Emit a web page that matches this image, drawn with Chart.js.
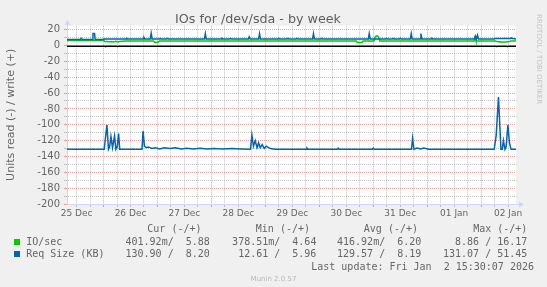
<!DOCTYPE html>
<html>
<head>
<meta charset="utf-8">
<script src="https://cdn.jsdelivr.net/npm/chart.js@4.4.1/dist/chart.umd.min.js"></script>
<style>
  body { margin: 0; background: #F0F0F0; }
  #wrap { position: relative; width: 547px; height: 287px; overflow: hidden; }
  #c { position: absolute; left: 0; top: 0; }
  .lg { position: absolute; font: 10px "DejaVu Sans Mono", monospace; color: #666; white-space: pre; line-height: 12px; }
  .sq { position: absolute; width: 6px; height: 6px; }
  #rrd { position: absolute; left: 534px; top: 14px; font: 7px "DejaVu Sans", sans-serif; color: #c4c4c4; writing-mode: vertical-rl; white-space: pre; line-height: 9px; }
  #ver { position: absolute; left: 0; width: 547px; top: 275px; text-align: center; font: 7px "DejaVu Sans", sans-serif; color: #b8b8b8; line-height: 9px; }
</style>
</head>
<body>
<div id="wrap">
  <canvas id="c" width="547" height="287"></canvas>
  <div id="legend"></div>
  <div id="rrd">RRDTOOL / TOBI OETIKER</div>
  <div id="ver">Munin 2.0.57</div>
</div>
<script>
// hours counted from 25 Dec 00:00
const startHour = 7.75;
const endHour = 207.5;
const dayLabels = ['25 Dec', '26 Dec', '27 Dec', '28 Dec', '29 Dec', '30 Dec', '31 Dec', '01 Jan', '02 Jan'];

// IO/sec: write (+) and read (-)
const ioWrite = [[7.75,6.4],[24.0,6.4],[24.5,5.0],[25.6,5.2],[26.7,4.4],[27.6,5.1],[28.5,4.6],[29.4,5.3],[30.3,4.5],[31.2,5.1],[32.4,5.4],[33.5,5.6],
  [46.2,5.6],[46.7,4.2],[48.3,4.2],[48.8,5.6],[136.4,5.6],[136.9,3.8],[139.0,3.8],[139.5,5.6],
  [144.3,5.6],[144.8,10.5],[145.3,12.0],[145.9,12.0],[146.4,10.5],[146.9,5.6],[188.9,5.6],[189.3,10.0],[189.7,5.6],
  [198.3,5.6],[198.9,5.0],[200.5,4.4],[203.0,4.4],[204.6,5.0],[205.3,5.6],[207.5,5.6]];
const ioRead = [[7.75,-0.4],[24.6,-0.4],[24.9,-1.6],[25.3,-0.4],[29.9,-0.4],[30.3,-1.6],[30.7,-0.4],
  [198.6,-0.4],[199.0,-1.6],[199.4,-0.4],[203.3,-0.4],[203.7,-1.6],[204.1,-0.4],[207.5,-0.4]];

// Req Size (KB): write (+) and read (-)
const reqWrite = [[7.75,7.6],[13.6,7.6],[14.1,9],[14.6,7.6],[19.0,7.6],[19.3,15],[20.0,15],[20.3,7.6],[23.8,7.6],[24.2,8.3],
  [34.0,8.3],[34.4,9],[34.8,8.3],[41.6,8.3],[42.0,10],[42.4,8.3],[44.8,8.3],[45.2,15.5],[45.6,8.3],
  [48.8,8.3],[49.2,9],[49.6,8.3],[52.0,8.3],[52.4,9],[52.8,8.3],[68.9,8.3],[69.3,15],[69.7,8.3],
  [76.3,8.3],[76.7,9],[77.1,8.3],[80.1,8.3],[80.5,9],[80.9,8.3],[88.4,8.3],[88.8,11],[89.2,8.3],
  [93.0,8.3],[93.4,15],[93.8,8.3],[101.6,8.3],[102,9],[102.4,8.3],[105.6,8.3],[106,9],[106.4,8.3],
  [109.6,8.3],[110,9],[110.4,8.3],[117.0,8.3],[117.4,15],[117.8,8.3],[120.6,8.3],[121,9],[121.4,8.3],
  [141.8,8.3],[142.2,15],[142.6,8.3],[149.6,8.3],[150,9],[150.4,8.3],[152.6,8.3],[153,9],[153.4,8.3],
  [155.6,8.3],[156,9],[156.4,8.3],[160.5,8.3],[160.9,15],[161.3,8.3],[164.8,8.3],[165.2,15],[165.6,8.3],
  [169.7,8.3],[170.1,9],[170.5,8.3],[189.0,8.3],[189.4,12],[189.9,8.3],[190.4,13],[190.8,8.3],
  [197.8,8.3],[198.3,8.9],[205.1,8.9],[205.5,9.6],[205.9,8.9],[207.5,8.2]];
const reqRead = [[7.75,-131],[24.3,-131],[25.5,-100],[26.2,-131],[26.7,-128],[27.3,-115],[28.0,-129],[28.9,-114],[29.5,-131],
  [30.1,-128],[30.7,-111],[31.2,-131],[41.1,-131],[41.6,-108],[42.2,-127],[43.0,-129],[44.0,-128],[45.5,-130],
  [47.0,-129],[49.0,-130.5],[51.0,-129],[53.5,-130],[56.0,-129],[58.5,-130.5],[61.0,-129.5],[64.0,-130.5],
  [67.0,-129.5],[70.0,-130.5],[73.0,-130],[77.0,-130.5],[81.0,-130],[85.0,-130.5],[89.4,-131],[90.0,-113],
  [90.7,-127],[91.5,-120],[92.3,-129],[93.0,-123],[93.7,-129],[94.6,-125],[95.5,-130],[96.4,-127],[98.2,-130],
  [100.4,-131],[114.1,-131],[114.5,-129.5],[114.9,-131],[128.0,-131],[128.4,-129.5],[128.8,-131],
  [143.6,-131],[144.0,-129.5],[144.4,-131],[161.0,-131],[161.5,-117],[162.1,-131],[163.5,-129.5],
  [165.0,-130.5],[166.5,-129.5],[168.5,-131],[197.8,-131],[198.7,-113],[199.7,-65],[200.8,-131],[201.4,-131],
  [201.9,-120],[202.6,-131],[203.1,-128],[203.9,-100],[204.6,-123],[205.3,-131],[207.5,-131]];

// legend table
const legendHeads = ['Cur (-/+)', 'Min (-/+)', 'Avg (-/+)', 'Max (-/+)'];
const seriesNames = ['IO/sec', 'Req Size (KB)'];
const seriesColors = ['#00CC00', '#0066B3'];
const ioStats = ['401.92m/  5.88', '378.51m/  4.64', '416.92m/  6.20', '8.86 / 16.17'];
const reqStats = ['130.90 /  8.20', '12.61 /  5.96', '129.57 /  8.19', '131.07 / 51.45'];
const lastUpdate = 'Last update: Fri Jan  2 15:30:07 2026';

const headRight = [201.5, 310, 418, 527.3];
const colRight = [209.8, 316.4, 421.3, 527.3];

function addText(txt, right, top, left) {
  var d = document.createElement('div');
  d.className = 'lg';
  d.textContent = txt;
  d.style.top = top + 'px';
  if (left != null) d.style.left = left + 'px';
  else d.style.right = (547 - right) + 'px';
  document.getElementById('legend').appendChild(d);
}
function addSquare(color, left, top) {
  var s = document.createElement('div');
  s.className = 'sq';
  s.style.background = color;
  s.style.left = left + 'px';
  s.style.top = top + 'px';
  document.getElementById('legend').appendChild(s);
}

legendHeads.forEach((h, i) => addText(h, headRight[i], 223));
[ioStats, reqStats].forEach((row, r) => {
  var top = 236 + r * 12.3;
  addSquare(seriesColors[r], 14, top + 3);
  addText(seriesNames[r], null, top, 26.2);
  row.forEach((v, i) => addText(v, colRight[i], top));
});
addText(lastUpdate, 534, 260.6);

function pts(list) {
  return list.map(p => ({x: p[0], y: p[1]}));
}

const gridRed = 'rgba(232,64,64,0.5)';
const gridGray = 'rgba(143,143,143,0.5)';
const axisColor = '#CFD6F8';

const muninFrame = {
  id: 'muninFrame',
  beforeDraw(chart) {
    const {ctx, chartArea: a} = chart;
    ctx.save();
    ctx.fillStyle = '#F0F0F0';
    ctx.fillRect(0, 0, chart.width, chart.height);
    ctx.fillStyle = '#FFFFFF';
    ctx.fillRect(a.left, a.top, a.right - a.left, a.bottom - a.top);
    ctx.restore();
  },
  afterDatasetsDraw(chart) {
    const {ctx, chartArea: a, scales} = chart;
    const y0 = Math.round(scales.y.getPixelForValue(0)) + 0.5;
    ctx.save();
    ctx.strokeStyle = '#000000';
    ctx.lineWidth = 1;
    ctx.beginPath();
    ctx.moveTo(a.left, y0);
    ctx.lineTo(a.right, y0);
    ctx.stroke();
    ctx.restore();
  },
  afterDraw(chart) {
    const {ctx, chartArea: a} = chart;
    const x = Math.round(a.left) + 0.5;
    const yb = Math.round(a.bottom) + 0.5;
    ctx.save();
    ctx.strokeStyle = axisColor;
    ctx.fillStyle = axisColor;
    ctx.lineWidth = 1;
    ctx.beginPath();
    ctx.moveTo(x, a.top);
    ctx.lineTo(x, a.top - 2);
    ctx.moveTo(a.right, yb);
    ctx.lineTo(a.right + 3, yb);
    ctx.stroke();
    ctx.beginPath();
    ctx.moveTo(x - 3, a.top - 1);
    ctx.lineTo(x + 3, a.top - 1);
    ctx.lineTo(x, a.top - 6);
    ctx.closePath();
    ctx.fill();
    ctx.beginPath();
    ctx.moveTo(a.right + 3, yb - 3);
    ctx.lineTo(a.right + 3, yb + 3);
    ctx.lineTo(a.right + 8, yb);
    ctx.closePath();
    ctx.fill();
    ctx.restore();
  }
};

function lineSet(label, list, color) {
  return {
    label: label,
    data: pts(list),
    borderColor: color,
    backgroundColor: color,
    borderWidth: 1.5,
    pointRadius: 0,
    tension: 0,
    fill: false
  };
}

new Chart(document.getElementById('c'), {
  type: 'line',
  data: {
    datasets: [
      lineSet('Req Size (KB) write', reqWrite, '#0066B3'),
      lineSet('Req Size (KB) read', reqRead, '#0066B3'),
      lineSet('IO/sec write', ioWrite, '#00CC00'),
      lineSet('IO/sec read', ioRead, '#00CC00')
    ]
  },
  options: {
    responsive: false,
    devicePixelRatio: 1,
    animation: false,
    events: [],
    layout: { padding: { left: 0, right: 31, top: 0, bottom: 66 } },
    plugins: {
      legend: { display: false },
      tooltip: { enabled: false },
      title: {
        display: true,
        text: 'IOs for /dev/sda - by week',
        color: '#5e5e5e',
        font: { family: 'DejaVu Sans', size: 12.7, weight: 'normal', lineHeight: 1 },
        padding: { top: 13, bottom: 0 }
      }
    },
    scales: {
      x: {
        type: 'linear',
        min: startHour,
        max: endHour,
        afterFit: s => { s.height = 17; },
        ticks: {
          stepSize: 6,
          includeBounds: false,
          autoSkip: false,
          maxRotation: 0,
          minRotation: 0,
          padding: 1,
          color: '#666',
          font: { family: 'DejaVu Sans', size: 9 },
          callback: v => (v % 24 === 12 ? dayLabels[(v - 12) / 24] : '')
        },
        grid: {
          color: c => (c.tick && c.tick.value % 24 === 0 ? gridRed : gridGray),
          tickColor: c => (c.tick && c.tick.value % 24 === 0 ? gridRed : gridGray),
          tickLength: 3,
          lineWidth: 1
        },
        border: { color: axisColor, width: 1, dash: [1, 1] }
      },
      y: {
        min: -200,
        max: 25,
        afterFit: s => { s.width = 67; },
        title: {
          display: true,
          text: 'Units read (-) / write (+)',
          color: '#666',
          font: { family: 'DejaVu Sans', size: 11 },
          padding: { top: 5, bottom: 0 }
        },
        ticks: {
          stepSize: 10,
          includeBounds: false,
          autoSkip: false,
          padding: 4,
          color: '#666',
          font: { family: 'DejaVu Sans', size: 10 },
          callback: v => (v % 20 === 0 ? String(v) : '')
        },
        grid: {
          color: c => (c.tick && c.tick.value % 20 === 0 ? gridRed : gridGray),
          tickColor: c => (c.tick && c.tick.value % 20 === 0 ? gridRed : gridGray),
          tickLength: 3,
          lineWidth: 1
        },
        border: { color: axisColor, width: 1, dash: [1, 1] }
      }
    }
  },
  plugins: [muninFrame]
});
</script>
</body>
</html>
